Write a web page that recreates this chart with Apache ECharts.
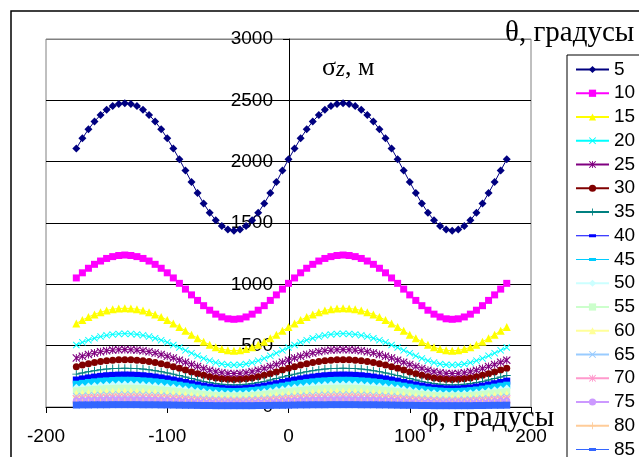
<!DOCTYPE html>
<html><head><meta charset="utf-8">
<script src="https://cdn.jsdelivr.net/npm/echarts@6/dist/echarts.min.js"></script>
<style>html,body{margin:0;padding:0;background:#fff}#c{width:639px;height:457px}</style>
</head><body><div id="c"></div><script>
const phi = [-175,-170,-165,-160,-155,-150,-145,-140,-135,-130,-125,-120,-115,-110,-105,-100,-95,-90,-85,-80,-75,-70,-65,-60,-55,-50,-45,-40,-35,-30,-25,-20,-15,-10,-5,0,5,10,15,20,25,30,35,40,45,50,55,60,65,70,75,80,85,90,95,100,105,110,115,120,125,130,135,140,145,150,155,160,165,170,175,180];
const s5 = [2107,2190,2264,2328,2381,2423,2453,2471,2477,2471,2453,2423,2381,2328,2264,2190,2107,2019,1927,1834,1744,1659,1584,1522,1476,1447,1437,1447,1476,1522,1584,1659,1744,1834,1927,2019,2107,2190,2264,2328,2381,2423,2453,2471,2477,2471,2453,2423,2381,2328,2264,2190,2107,2019,1927,1834,1744,1659,1584,1522,1476,1447,1437,1447,1476,1522,1584,1659,1744,1834,1927,2019];
const s10 = [1052,1094,1131,1163,1190,1211,1226,1235,1239,1235,1226,1211,1190,1163,1131,1094,1052,1008,961,914,869,826,789,757,734,719,715,719,734,757,789,826,869,914,961,1008,1052,1094,1131,1163,1190,1211,1226,1235,1239,1235,1226,1211,1190,1163,1131,1094,1052,1008,961,914,869,826,789,757,734,719,715,719,734,757,789,826,869,914,961,1008];
const s15 = [681,709,734,755,773,787,797,803,805,803,797,787,773,755,734,709,681,652,621,590,561,532,508,487,472,462,459,462,472,487,508,532,561,590,621,652,681,709,734,755,773,787,797,803,805,803,797,787,773,755,734,709,681,652,621,590,561,532,508,487,472,462,459,462,472,487,508,532,561,590,621,652];
const s20 = [506,527,545,561,574,584,592,596,598,596,592,584,574,561,545,527,506,485,462,439,417,396,378,362,351,344,342,344,351,362,378,396,417,439,462,485,506,527,545,561,574,584,592,596,598,596,592,584,574,561,545,527,506,485,462,439,417,396,378,362,351,344,342,344,351,362,378,396,417,439,462,485];
const s25 = [399,414,428,440,450,458,464,467,468,467,464,458,450,440,428,414,399,382,365,347,330,314,300,288,279,274,272,274,279,288,300,314,330,347,365,382,399,414,428,440,450,458,464,467,468,467,464,458,450,440,428,414,399,382,365,347,330,314,300,288,279,274,272,274,279,288,300,314,330,347,365,382];
const s30 = [329,342,353,363,371,378,382,385,386,385,382,378,371,363,353,342,329,315,301,286,272,259,247,237,230,226,224,226,230,237,247,259,272,286,301,315,329,342,353,363,371,378,382,385,386,385,382,378,371,363,353,342,329,315,301,286,272,259,247,237,230,226,224,226,230,237,247,259,272,286,301,315];
const s35 = [268,278,288,296,303,309,313,315,316,315,313,309,303,296,288,278,268,256,244,232,220,209,199,191,185,181,180,181,185,191,199,209,220,232,244,256,268,278,288,296,303,309,313,315,316,315,313,309,303,296,288,278,268,256,244,232,220,209,199,191,185,181,180,181,185,191,199,209,220,232,244,256];
const s40 = [220,229,237,244,250,255,258,260,261,260,258,255,250,244,237,229,220,211,200,190,180,171,163,156,151,148,147,148,151,156,163,171,180,190,200,211,220,229,237,244,250,255,258,260,261,260,258,255,250,244,237,229,220,211,200,190,180,171,163,156,151,148,147,148,151,156,163,171,180,190,200,211];
const s45 = [186,193,200,205,210,213,216,218,218,218,216,213,210,205,200,193,186,178,170,162,154,146,139,134,130,127,126,127,130,134,139,146,154,162,170,178,186,193,200,205,210,213,216,218,218,218,216,213,210,205,200,193,186,178,170,162,154,146,139,134,130,127,126,127,130,134,139,146,154,162,170,178];
const s50 = [156,162,168,172,176,180,182,183,184,183,182,180,176,172,168,162,156,150,143,136,129,122,117,112,109,106,105,106,109,112,117,122,129,136,143,150,156,162,168,172,176,180,182,183,184,183,182,180,176,172,168,162,156,150,143,136,129,122,117,112,109,106,105,106,109,112,117,122,129,136,143,150];
const s55 = [131,135,140,144,147,150,152,153,153,153,152,150,147,144,140,135,131,125,119,114,108,103,98,94,91,90,89,90,91,94,98,103,108,114,119,125,131,135,140,144,147,150,152,153,153,153,152,150,147,144,140,135,131,125,119,114,108,103,98,94,91,90,89,90,91,94,98,103,108,114,119,125];
const s60 = [107,111,115,119,121,124,125,126,126,126,125,124,121,119,115,111,107,103,98,93,88,84,80,77,74,73,72,73,74,77,80,84,88,93,98,103,107,111,115,119,121,124,125,126,126,126,125,124,121,119,115,111,107,103,98,93,88,84,80,77,74,73,72,73,74,77,80,84,88,93,98,103];
const s65 = [87,90,93,96,98,100,101,102,102,102,101,100,98,96,93,90,87,83,80,76,72,69,66,63,61,60,60,60,61,63,66,69,72,76,80,83,87,90,93,96,98,100,101,102,102,102,101,100,98,96,93,90,87,83,80,76,72,69,66,63,61,60,60,60,61,63,66,69,72,76,80,83];
const s70 = [68,71,73,75,77,78,79,80,80,80,79,78,77,75,73,71,68,65,62,59,56,53,51,49,47,46,46,46,47,49,51,53,56,59,62,65,68,71,73,75,77,78,79,80,80,80,79,78,77,75,73,71,68,65,62,59,56,53,51,49,47,46,46,46,47,49,51,53,56,59,62,65];
const s75 = [50,52,53,55,56,57,58,58,58,58,58,57,56,55,53,52,50,48,46,43,41,39,38,36,35,34,34,34,35,36,38,39,41,43,46,48,50,52,53,55,56,57,58,58,58,58,58,57,56,55,53,52,50,48,46,43,41,39,38,36,35,34,34,34,35,36,38,39,41,43,46,48];
const s80 = [33,34,35,36,37,38,38,38,39,38,38,38,37,36,35,34,33,32,30,29,27,26,25,24,23,23,22,23,23,24,25,26,27,29,30,32,33,34,35,36,37,38,38,38,39,38,38,38,37,36,35,34,33,32,30,29,27,26,25,24,23,23,22,23,23,24,25,26,27,29,30,32];
const s85 = [16,17,17,18,18,18,19,19,19,19,19,18,18,18,17,17,16,15,14,14,13,12,12,11,11,11,11,11,11,11,12,12,13,14,14,15,16,17,17,18,18,18,19,19,19,19,19,18,18,18,17,17,16,15,14,14,13,12,12,11,11,11,11,11,11,11,12,12,13,14,14,15];
const thetaNames = ['5','10','15','20','25','30','35','40','45','50','55','60','65','70','75','80','85'];
const yTicks = [0,500,1000,1500,2000,2500,3000];
const xTicks = [-200,-100,0,100,200];

const seriesValues = [s5,s10,s15,s20,s25,s30,s35,s40,s45,s50,s55,s60,s65,s70,s75,s80,s85];
const colors = ['#000080','#FF00FF','#FFFF00','#00FFFF','#800080','#800000','#008080','#0000FF','#00CCFF','#CCFFFF','#CCFFCC','#FFFF99','#99CCFF','#FF99CC','#CC99FF','#FFCC99','#3366FF'];
const X = 'path://M0,1L1,0L5,4L9,0L10,1L6,5L10,9L9,10L5,6L1,10L0,9L4,5Z';
const PLUS = 'path://M4.4,0L5.6,0L5.6,4.4L10,4.4L10,5.6L5.6,5.6L5.6,10L4.4,10L4.4,5.6L0,5.6L0,4.4L4.4,4.4Z';
const STAR = 'path://M0,1L1,0L5,4L9,0L10,1L6,5L10,9L9,10L5,6L1,10L0,9L4,5ZM4.4,0L5.6,0L5.6,10L4.4,10Z';
const DASH = 'path://M0,4L10,4L10,6L0,6Z';
const DASH_LEGEND = 'path://M0,1L33,1L33,2L0,2ZM13,0L20,0L20,3L13,3Z';
const symbols = ['diamond','rect','triangle',X,STAR,'circle',PLUS,DASH,DASH,'diamond','rect','triangle',X,STAR,'circle',PLUS,DASH];
const sizes = [8,7,8,7,8,7,8,7,7,8,7,8,7,8,7,8,7];

const chart = echarts.init(document.getElementById('c'), null, {renderer:'canvas'});
const series = thetaNames.map((n,k)=>({
  type:'line', name:n,
  data: phi.map((p,i)=>[p, seriesValues[k][i]]),
  symbol: symbols[k], symbolSize: sizes[k], showSymbol:true,
  lineStyle:{width:1, color:colors[k]},
  itemStyle:{color:colors[k]},
  emphasis:{disabled:true}
}));
const legendData = thetaNames.map((n,k)=> symbols[k]===DASH ? {name:n, icon:DASH_LEGEND, itemStyle:{color:colors[k]}} : {name:n});
chart.setOption({
  animation:false,
  grid:{left:46, right:108, top:39, bottom:50, show:true, borderColor:'#808080', borderWidth:1, containLabel:false, outerBoundsMode:'none'},
  xAxis:{type:'value', min:xTicks[0], max:xTicks[xTicks.length-1], interval:100,
    axisLine:{show:true, onZero:false, lineStyle:{color:'#000', width:1}},
    axisTick:{show:true, length:6, lineStyle:{color:'#000'}},
    axisLabel:{fontFamily:'Liberation Sans', fontSize:19, color:'#000', margin:20, formatter:(v)=>String(v)},
    splitLine:{show:false}},
  yAxis:{type:'value', min:yTicks[0], max:yTicks[yTicks.length-1], interval:500,
    position:'left', offset:-243,
    axisLine:{show:true, onZero:false, lineStyle:{color:'#000', width:1}},
    axisTick:{show:true, length:6, lineStyle:{color:'#000'}},
    axisLabel:{fontFamily:'Liberation Sans', fontSize:19, color:'#000', margin:16, formatter:(v)=>String(v)},
    splitLine:{show:true, lineStyle:{color:['#000','#000','#000','#000','#000','#000','#808080'], width:1}}},
  legend:{type:'plain', orient:'vertical', left:567, top:55, height:600, width:100, data:legendData,
    itemWidth:33, itemHeight:9, itemGap:4.75, padding:[5,24,5,8],
    borderColor:'#000', borderWidth:1, backgroundColor:'#fff',
    textStyle:{fontFamily:'Liberation Sans', fontSize:19, color:'#000'}},
  graphic:[
    {type:'rect', shape:{x:11, y:11, width:700, height:500}, style:{fill:'none', stroke:'#000', lineWidth:1.5}, z:-10},
    {type:'text', style:{x:505, y:33, text:'θ, градусы', font:'29px "Liberation Serif"', fill:'#000', align:'left', verticalAlign:'middle'}, z:100},
    {type:'text', style:{x:422, y:418, text:'φ, градусы', font:'29px "Liberation Serif"', fill:'#000', align:'left', verticalAlign:'middle'}, z:100},
    {type:'text', style:{x:322, y:68, text:'{a|σ}{b|z}{a|, м}', align:'left', verticalAlign:'middle',
      rich:{a:{fontFamily:'Liberation Serif', fontSize:26, fill:'#000', color:'#000'}, b:{fontFamily:'Liberation Serif', fontStyle:'italic', fontSize:23, fill:'#000', color:'#000', padding:[4,0,0,0]}}}, z:100}
  ],
  series: series
});
</script></body></html>
